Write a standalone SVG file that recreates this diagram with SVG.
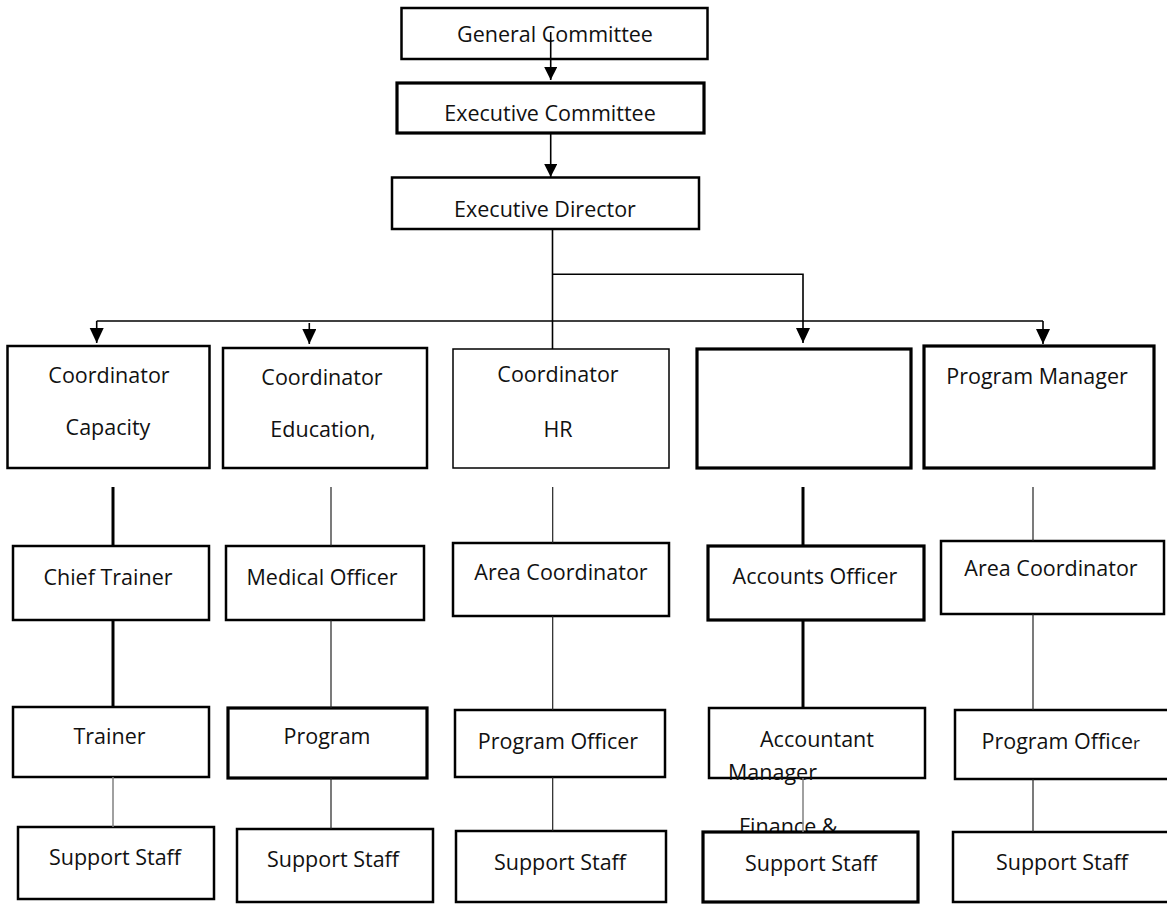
<svg xmlns="http://www.w3.org/2000/svg" width="1167" height="904" viewBox="0 0 1167 904">
<style>
  .bx { fill: #fff; stroke: #000; stroke-width: 2.5; }
  .bx.thin { stroke-width: 1.5; }
  .bx.thick { stroke-width: 3.2; }
  .t { font-family: "Open Sans", "Liberation Sans", sans-serif; font-size: 21.5px; fill: #111; text-anchor: middle; }
  .ts { text-anchor: start; }
  .ln { fill: none; stroke: #000; stroke-width: 1.6; }
  .lthin { fill: none; stroke: #222; stroke-width: 1.2; }
  .lthick { fill: none; stroke: #000; stroke-width: 3; }
  .lgray { fill: none; stroke: #808080; stroke-width: 1.5; }
</style>
<defs>
  <marker id="ah" markerUnits="userSpaceOnUse" markerWidth="16" markerHeight="15" refX="15" refY="7" orient="auto">
    <path d="M0,0 L15,7 L0,14 z" fill="#000"/>
  </marker>
  <marker id="ahs" markerUnits="userSpaceOnUse" markerWidth="14" markerHeight="14" refX="13" refY="6.5" orient="auto">
    <path d="M0,0 L13,6.5 L0,13 z" fill="#000"/>
  </marker>
</defs>
<rect width="1167" height="904" fill="#fff"/>

<g id="general-committee">
  <rect class="bx" x="401.5" y="8" width="306" height="51"/>
  <text class="t" x="555" y="42">General Committee</text>
</g>
<g id="executive-committee">
  <rect class="bx thick" x="397" y="83" width="307" height="50"/>
  <text class="t" x="550" y="120.5">Executive Committee</text>
</g>
<g id="executive-director">
  <rect class="bx" x="392" y="177.5" width="307" height="51.5"/>
  <text class="t" x="545" y="216.5">Executive Director</text>
</g>

<g id="coord-capacity">
  <rect class="bx" x="7.5" y="346" width="202" height="122"/>
  <text class="t" x="109" y="383">Coordinator</text>
  <text class="t" x="108" y="435">Capacity</text>
</g>
<g id="coord-education">
  <rect class="bx" x="223" y="348" width="204" height="120"/>
  <text class="t" x="322" y="385">Coordinator</text>
  <text class="t" x="323" y="436.5">Education,</text>
</g>
<g id="coord-hr">
  <rect class="bx thin" x="453" y="349" width="216" height="119"/>
  <text class="t" x="558" y="382">Coordinator</text>
  <text class="t" x="558" y="436.5">HR</text>
</g>
<g id="coord-blank">
  <rect class="bx thick" x="697" y="349" width="214" height="119"/>
</g>
<g id="program-manager">
  <rect class="bx thick" x="924" y="346" width="230" height="122"/>
  <text class="t" x="1037" y="384">Program Manager</text>
</g>

<g id="chief-trainer">
  <rect class="bx" x="13" y="546" width="196" height="74"/>
  <text class="t" x="108" y="585">Chief Trainer</text>
</g>
<g id="medical-officer">
  <rect class="bx" x="226" y="546" width="198" height="74"/>
  <text class="t" x="322" y="585">Medical Officer</text>
</g>
<g id="area-coordinator-hr">
  <rect class="bx" x="453" y="543" width="216" height="73"/>
  <text class="t" x="561" y="580">Area Coordinator</text>
</g>
<g id="accounts-officer">
  <rect class="bx thick" x="708" y="546" width="216" height="74"/>
  <text class="t" x="815" y="584">Accounts Officer</text>
</g>
<g id="area-coordinator-pm">
  <rect class="bx" x="941" y="541" width="223" height="73"/>
  <text class="t" x="1051" y="576">Area Coordinator</text>
</g>

<g id="trainer">
  <rect class="bx" x="13" y="707" width="196" height="70"/>
  <text class="t" x="109.5" y="744">Trainer</text>
</g>
<g id="program">
  <rect class="bx thick" x="228" y="708" width="199" height="70"/>
  <text class="t" x="327" y="744">Program</text>
</g>
<g id="program-officer-hr">
  <rect class="bx" x="455" y="710" width="210" height="67"/>
  <text class="t" x="558" y="749">Program Officer</text>
</g>
<g id="accountant-manager">
  <rect class="bx" x="709" y="708" width="216" height="70"/>
  <text class="t" x="817" y="747">Accountant</text>
  <text class="t ts" x="728" y="780">Manager</text>
  <text class="t ts" x="739" y="834">Finance &amp;</text>
</g>
<g id="program-officer-pm">
  <rect class="bx" x="955" y="710" width="214" height="69"/>
  <text class="t ts" x="981.5" y="749">Program Office<tspan font-size="17">r</tspan></text>
</g>

<g id="support-staff-1">
  <rect class="bx" x="18" y="827" width="196" height="72"/>
  <text class="t" x="115" y="865">Support Staff</text>
</g>
<g id="support-staff-2">
  <rect class="bx" x="237" y="829" width="196" height="73"/>
  <text class="t" x="333" y="867">Support Staff</text>
</g>
<g id="support-staff-3">
  <rect class="bx" x="456" y="831" width="210" height="71"/>
  <text class="t" x="560" y="870">Support Staff</text>
</g>
<g id="support-staff-4">
  <rect class="bx thick" x="703" y="832" width="215" height="70"/>
  <text class="t" x="811" y="871">Support Staff</text>
</g>
<g id="support-staff-5">
  <rect class="bx" x="953" y="832" width="216" height="70"/>
  <text class="t" x="1062" y="870">Support Staff</text>
</g>

<g id="connectors">
  <line class="ln" x1="550.7" y1="32" x2="550.7" y2="80" marker-end="url(#ahs)"/>
  <line class="ln" x1="550.7" y1="133" x2="550.7" y2="177" marker-end="url(#ahs)"/>
  <line class="ln" x1="552.5" y1="229" x2="552.5" y2="349"/>
  <polyline class="ln" points="552.5,274.3 803,274.3 803,343" marker-end="url(#ah)"/>
  <line class="ln" x1="96.7" y1="321" x2="1043" y2="321"/>
  <line class="ln" x1="96.7" y1="321" x2="96.7" y2="343" marker-end="url(#ah)"/>
  <line class="ln" x1="309.3" y1="323" x2="309.3" y2="344" marker-end="url(#ah)"/>
  <line class="ln" x1="1043" y1="321" x2="1043" y2="344" marker-end="url(#ah)"/>

  <line class="lthick" x1="113" y1="487" x2="113" y2="546"/>
  <line class="lthick" x1="113" y1="620" x2="113" y2="707"/>
  <line class="lgray" x1="113" y1="777" x2="113" y2="827"/>

  <line class="lthin" x1="331" y1="487" x2="331" y2="546"/>
  <line class="lthin" x1="331" y1="620" x2="331" y2="708"/>
  <line class="lthin" x1="331" y1="778" x2="331" y2="829"/>

  <line class="lthin" x1="552.7" y1="487" x2="552.7" y2="543"/>
  <line class="lthin" x1="552.7" y1="616" x2="552.7" y2="710"/>
  <line class="lthin" x1="552.7" y1="777" x2="552.7" y2="831"/>

  <line class="lthick" x1="803" y1="487" x2="803" y2="546"/>
  <line class="lthick" x1="803" y1="620" x2="803" y2="708"/>
  <line class="lgray" x1="803" y1="778" x2="803" y2="832"/>

  <line class="lthin" x1="1033" y1="487" x2="1033" y2="541"/>
  <line class="lthin" x1="1033" y1="614" x2="1033" y2="710"/>
  <line class="lthin" x1="1033" y1="779" x2="1033" y2="832"/>
</g>
</svg>
